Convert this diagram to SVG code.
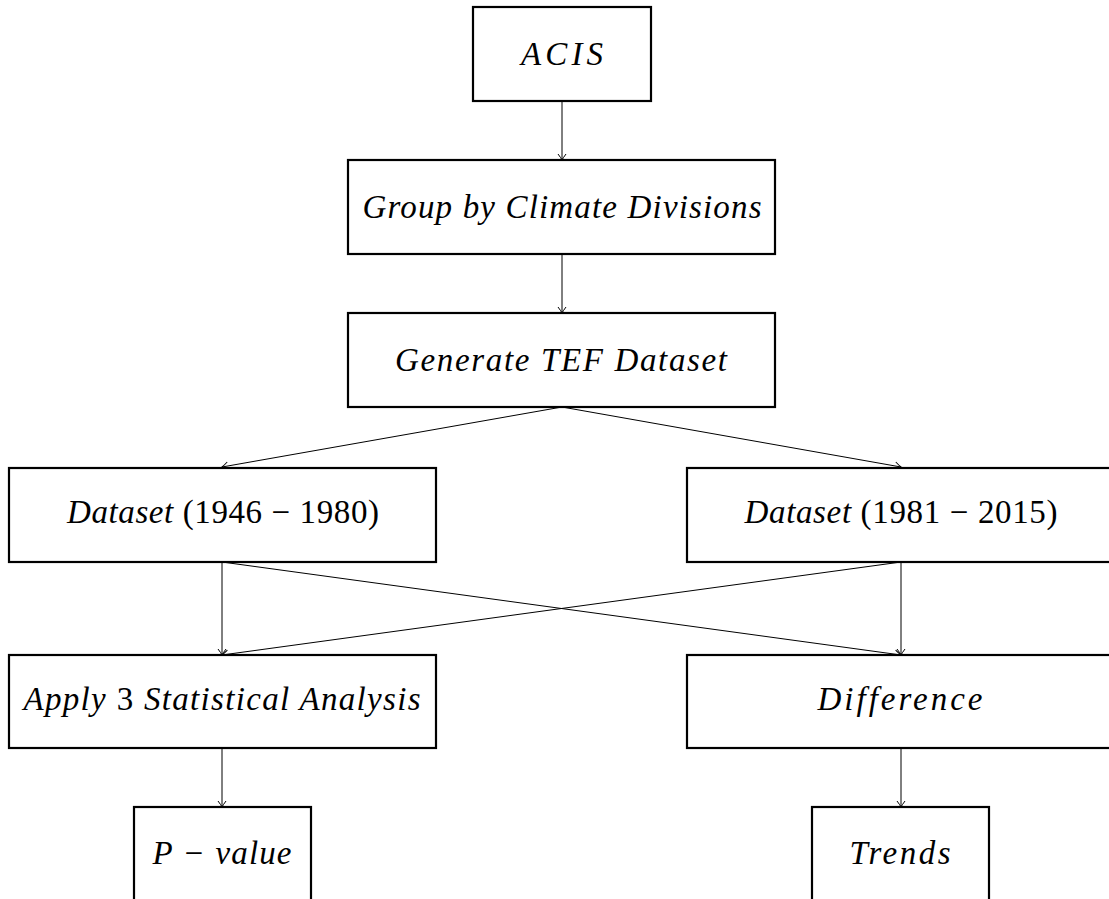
<svg xmlns="http://www.w3.org/2000/svg" width="1109" height="899" viewBox="0 0 1109 899">
<defs>
<style>
.box{fill:#fff;stroke:#000;stroke-width:2.2}
.t{font-family:"Liberation Serif","DejaVu Serif",serif;font-style:italic;font-size:33px;fill:#000;text-anchor:middle}
.n{font-style:normal}
.c{fill:none;stroke:#000;stroke-width:1}
</style>
<marker id="ah" markerUnits="userSpaceOnUse" markerWidth="12" markerHeight="12" viewBox="-8 -6 10 12" refX="0" refY="0" orient="auto">
<path d="M -6 -4 Q -2 -1 0 0 Q -2 1 -6 4" fill="none" stroke="#000" stroke-width="1"/>
</marker>
</defs>
<rect width="1109" height="899" fill="#fff"/>
<g id="connectors">
<line class="c" x1="562" y1="101" x2="562" y2="160" marker-end="url(#ah)"/>
<line class="c" x1="562" y1="254" x2="562" y2="313" marker-end="url(#ah)"/>
<line class="c" x1="562" y1="407" x2="222" y2="467" marker-end="url(#ah)"/>
<line class="c" x1="562" y1="407" x2="901" y2="467" marker-end="url(#ah)"/>
<line class="c" x1="222" y1="562" x2="222" y2="655" marker-end="url(#ah)"/>
<line class="c" x1="222" y1="562" x2="901" y2="655" marker-end="url(#ah)"/>
<line class="c" x1="901" y1="562" x2="901" y2="655" marker-end="url(#ah)"/>
<line class="c" x1="901" y1="562" x2="222" y2="655" marker-end="url(#ah)"/>
<line class="c" x1="222" y1="748" x2="222" y2="807" marker-end="url(#ah)"/>
<line class="c" x1="901" y1="748" x2="901" y2="807" marker-end="url(#ah)"/>
</g>
<g id="acis">
<rect class="box" x="473" y="7" width="178" height="94"/>
<text class="t" x="562" y="65" textLength="82">ACIS</text>
</g>
<g id="group">
<rect class="box" x="348" y="160" width="427" height="94"/>
<text class="t" x="562" y="218" textLength="399">Group by Climate Divisions</text>
</g>
<g id="generate">
<rect class="box" x="348" y="313" width="427" height="94"/>
<text class="t" x="561" y="371" textLength="332">Generate TEF Dataset</text>
</g>
<g id="dataset1">
<rect class="box" x="9" y="468" width="427" height="94"/>
<text class="t" x="223" y="523" textLength="312">Dataset <tspan class="n">(1946 − 1980)</tspan></text>
</g>
<g id="dataset2">
<rect class="box" x="687" y="468" width="428" height="94"/>
<text class="t" x="901" y="523" textLength="313">Dataset <tspan class="n">(1981 − 2015)</tspan></text>
</g>
<g id="apply">
<rect class="box" x="9" y="655" width="427" height="93"/>
<text class="t" x="222" y="710" textLength="397">Apply <tspan class="n">3</tspan> Statistical Analysis</text>
</g>
<g id="difference">
<rect class="box" x="687" y="655" width="428" height="93"/>
<text class="t" x="900" y="710" textLength="165">Difference</text>
</g>
<g id="pvalue">
<rect class="box" x="134" y="807" width="177" height="100"/>
<text class="t" x="222" y="864" textLength="139">P − value</text>
</g>
<g id="trends">
<rect class="box" x="812" y="807" width="177" height="100"/>
<text class="t" x="900" y="864" textLength="101">Trends</text>
</g>
</svg>
